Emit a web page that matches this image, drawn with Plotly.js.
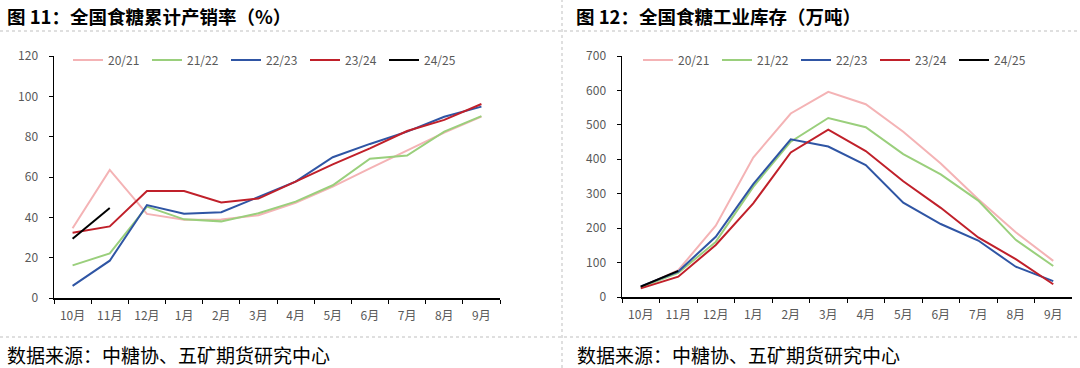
<!DOCTYPE html>
<html><head><meta charset="utf-8">
<script src="https://cdn.plot.ly/plotly-3.0.1.min.js"></script>
<style>html,body{margin:0;padding:0;background:#fff}#c{width:1080px;height:368px}</style>
</head><body><div id="c"></div>
<script>
const months = ['10月','11月','12月','1月','2月','3月','4月','5月','6月','7月','8月','9月'];
const seasons = ['20/21','21/22','22/23','23/24','24/25'];
const colors = ['#F4B3B5','#9ACF7C','#2F55A4','#C0202A','#000000'];

// 全国食糖累计产销率（%）
const rate2021 = [34.6,63.5,41.7,38.8,38.9,41,47.2,55.2,64.3,73,82,89.9];
const rate2122 = [16.2,22.1,45.3,39,38,42,47.8,55.9,69.1,70.6,82.5,90.2];
const rate2223 = [6,18.5,46.1,41.8,42.5,50,57.7,69.8,76.4,82.5,89.9,94.9];
const rate2324 = [32.4,35.5,53.1,53.1,47.4,49.3,57.7,66.3,74.2,82.8,88.3,96.2];
const rate2425 = [29.4,44.6];

// 全国食糖工业库存（万吨）
const stock2021 = [28,78,207,405,533,596,560,480,388,284,188,105];
const stock2122 = [28,70,160,320,451,520,493,415,356,280,166,90];
const stock2223 = [31,74,175,328,458,437,383,274,212,164,88,46];
const stock2324 = [25,59,151,272,420,486,424,336,259,173,110,37];
const stock2425 = [30,76];

const rateSeries = [rate2021, rate2122, rate2223, rate2324, rate2425];
const stockSeries = [stock2021, stock2122, stock2223, stock2324, stock2425];

const FONT = '"Noto Sans CJK SC", "Noto Sans", sans-serif';
const traces = [];
rateSeries.forEach((v,i)=>traces.push({
  x: months.slice(0,v.length), y: v, name: seasons[i], type:'scatter', mode:'lines',
  line:{color:colors[i], width:2}, xaxis:'x', yaxis:'y', legend:'legend'
}));
stockSeries.forEach((v,i)=>traces.push({
  x: months.slice(0,v.length), y: v, name: seasons[i], type:'scatter', mode:'lines',
  line:{color:colors[i], width:2}, xaxis:'x2', yaxis:'y2', legend:'legend2'
}));

const H = 368, W = 1080;
const py = p => 1 - p/H, px = p => p/W;
const xCommon = {type:'category', categoryorder:'array', categoryarray:months, range:[-0.5, months.length-0.5],
  showline:true, linecolor:'#000', linewidth:1.5, ticks:'outside', ticklen:4, tickcolor:'#000',
  tickson:'boundaries', showgrid:false, zeroline:false, tickangle:0, automargin:false, ticklabelstandoff:6,
  tickfont:{family:FONT, size:12, color:'#595959'}};
const yCommon = {showline:true, linecolor:'#000', linewidth:1.5, ticks:'outside', ticklen:4, tickcolor:'#000',
  showgrid:false, zeroline:false, automargin:false, ticklabelstandoff:8, tickfont:{family:FONT, size:12, color:'#595959'}};

const legCommon = {orientation:'h', xanchor:'left', yanchor:'middle', bgcolor:'rgba(0,0,0,0)',
  font:{family:FONT, size:12, color:'#595959'}, entrywidth:34, entrywidthmode:'pixels', traceorder:'normal'};

const dot = {color:'#BFBFBF', width:1, dash:'dot'};
const layout = {
  width:W, height:H, margin:{l:0,r:0,t:0,b:0,autoexpand:false}, paper_bgcolor:'#fff', plot_bgcolor:'rgba(0,0,0,0)',
  showlegend:true,
  xaxis: Object.assign({}, xCommon, {domain:[px(54), px(500)], anchor:'y'}),
  yaxis: Object.assign({}, yCommon, {domain:[py(298), py(56)], range:[0,120], dtick:20, anchor:'x'}),
  xaxis2: Object.assign({}, xCommon, {domain:[px(622), px(1072)], anchor:'y2'}),
  yaxis2: Object.assign({}, yCommon, {domain:[py(297), py(56)], range:[0,700], dtick:100, anchor:'x2'}),
  legend: Object.assign({}, legCommon, {x:px(68), y:py(60)}),
  legend2: Object.assign({}, legCommon, {x:px(638), y:py(60)}),
  shapes:[
    {type:'line', xref:'paper', yref:'paper', x0:0, x1:1, y0:py(31), y1:py(31), line:dot},
    {type:'line', xref:'paper', yref:'paper', x0:0, x1:1, y0:py(337), y1:py(337), line:dot},
    {type:'line', xref:'paper', yref:'paper', x0:px(562), x1:px(562), y0:0, y1:1, line:dot}
  ],
  annotations:[
    {text:'<b>图 11：全国食糖累计产销率（%）</b>', xref:'paper', yref:'paper', x:px(5), y:py(15.5),
     xanchor:'left', yanchor:'middle', showarrow:false, font:{family:FONT, size:18.5, color:'#000'}},
    {text:'<b>图 12：全国食糖工业库存（万吨）</b>', xref:'paper', yref:'paper', x:px(574), y:py(15.5),
     xanchor:'left', yanchor:'middle', showarrow:false, font:{family:FONT, size:18.5, color:'#000'}},
    {text:'数据来源：中糖协、五矿期货研究中心', xref:'paper', yref:'paper', x:px(5), y:py(354),
     xanchor:'left', yanchor:'middle', showarrow:false, font:{family:FONT, size:19, color:'#000'}},
    {text:'数据来源：中糖协、五矿期货研究中心', xref:'paper', yref:'paper', x:px(575), y:py(354),
     xanchor:'left', yanchor:'middle', showarrow:false, font:{family:FONT, size:19, color:'#000'}}
  ]
};
Plotly.newPlot('c', traces, layout, {staticPlot:true, displayModeBar:false});
</script></body></html>
